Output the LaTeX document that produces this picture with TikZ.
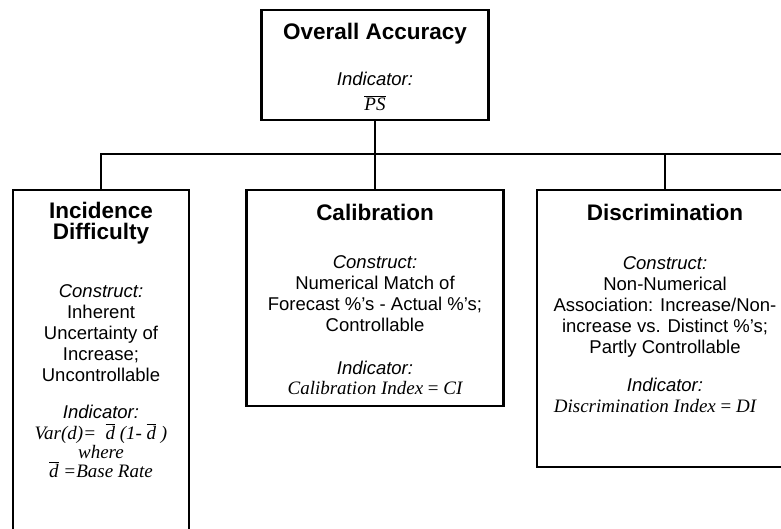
\documentclass[tikz,border=0pt]{standalone}
\usepackage{fontspec}
\setmainfont{Liberation Sans}
\newfontfamily\tms{Liberation Serif}
\newcommand{\obar}[1]{$\overline{\mbox{\tms\itshape #1}}$}
\begin{document}
\begin{tikzpicture}[x=1pt,y=-1pt,
  box/.style={draw,line width=2.8pt,inner sep=0pt,outer sep=0pt},
  conn/.style={line width=2.8pt},
  ttl/.style={anchor=base,inner sep=0pt,font=\fontsize{22.5}{23}\selectfont\bfseries},
  tx/.style={anchor=base,inner sep=0pt,font=\fontsize{18.5}{21}\selectfont},
  itx/.style={anchor=base,inner sep=0pt,font=\fontsize{18.5}{21}\selectfont\itshape},
  mtx/.style={anchor=base,inner sep=0pt,font=\fontsize{19}{21}\selectfont\tms\itshape}]
\path[use as bounding box] (0,0) rectangle (781,528);
\clip (0,0) rectangle (781,528);
% boxes
\node[box,minimum width=227pt,minimum height=110pt] (top) at (375,65) {};
\node[box,minimum width=176pt,minimum height=370pt] (inc) at (101,375) {};
\node[box,minimum width=257pt,minimum height=216pt] (cal) at (375,298) {};
\node[box,minimum width=256pt,minimum height=277pt] (disc) at (665,328.5) {};
% connectors
\coordinate (j) at (375,154);
\coordinate (barend) at (800,154);
\draw[conn] (top.south) -- (j);
\draw[conn] (j) -| (inc.north);
\draw[conn] (j) -- (cal.north);
\draw[conn] (j) -| (disc.north);
\draw[conn] (j) -- (barend);
% top box text
\node[ttl] (t1) at (375,39) {Overall Accuracy};
\node[itx] (t2) at (375,85) {Indicator:};
\node[mtx] (t3) at (375,110) {\obar{PS}};
% left box text
\node[ttl] (l1) at (101,218) {Incidence};
\node[ttl] (l2) at (101,239) {Difficulty};
\node[itx] (l3) at (101,297) {Construct:};
\node[tx] (l4) at (101,318) {Inherent};
\node[tx] (l5) at (101,339) {Uncertainty of};
\node[tx] (l6) at (101,360) {Increase;};
\node[tx] (l7) at (101,381) {Uncontrollable};
\node[itx] (l8) at (101,418) {Indicator:};
\node[mtx] (l9) at (101,439) {Var(d)=~ \obar{d} (1-~\obar{d}~)};
\node[mtx] (l10) at (101,458) {where};
\node[mtx] (l11) at (101,477) {\obar{d} =Base Rate};
% middle box text
\node[ttl] (m1) at (375,220) {Calibration};
\node[itx] (m2) at (375,268) {Construct:};
\node[tx] (m3) at (375,289) {Numerical Match of};
\node[tx] (m4) at (375,310) {Forecast \%’s - Actual \%’s;};
\node[tx] (m5) at (375,331) {Controllable};
\node[itx] (m6) at (375,374) {Indicator:};
\node[mtx] (m7) at (375,394) {Calibration Index {\upshape =} CI};
% right box text
\node[ttl] (r1) at (665,220) {Discrimination};
\node[itx] (r2) at (665,269) {Construct:};
\node[tx] (r3) at (665,290) {Non-Numerical};
\node[tx] (r4) at (665,311) {Association: Increase/Non-};
\node[tx] (r5) at (665,332) {increase vs. Distinct \%’s;};
\node[tx] (r6) at (665,353) {Partly Controllable};
\node[itx] (r7) at (665,391) {Indicator:};
\node[mtx] (r8) at (655,412) {Discrimination Index {\upshape =} DI};
\end{tikzpicture}
\end{document}
